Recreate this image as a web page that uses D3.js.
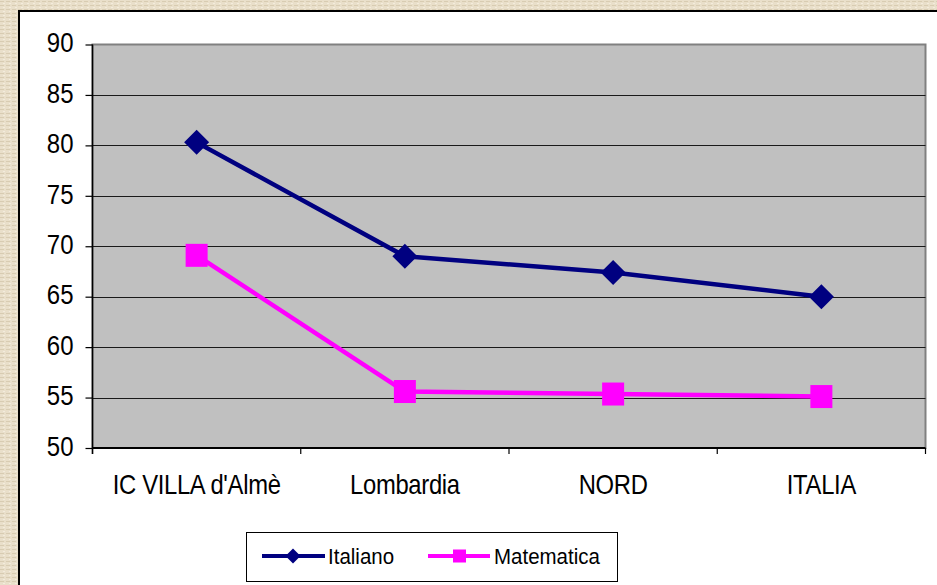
<!DOCTYPE html>
<html><head><meta charset="utf-8">
<script src="https://cdn.jsdelivr.net/npm/d3@7/dist/d3.min.js"></script>
<style>html,body{margin:0;padding:0;background:#e6dcc6;}svg{display:block;}</style>
</head><body>
<svg id="c" width="937" height="585"></svg>
<script>
const categories = ["IC VILLA d'Almè", "Lombardia", "NORD", "ITALIA"];
const italiano = [80.3, 69.0, 67.4, 65.0];
const matematica = [69.1, 55.6, 55.35, 55.1];
const yTicks = [50, 55, 60, 65, 70, 75, 80, 85, 90];
const seriesNames = ["Italiano", "Matematica"];

(function () {
const svg = d3.select("#c");
const W = 937, H = 585;
const font = "'Liberation Sans', Arial, sans-serif";

const defs = svg.append("defs");
const pat = defs.append("pattern").attr("id", "tex").attr("width", 6).attr("height", 4).attr("patternUnits", "userSpaceOnUse");
pat.append("rect").attr("width", 6).attr("height", 4).attr("fill", "#e9dfca");
pat.append("rect").attr("x", 0).attr("y", 1).attr("width", 4).attr("height", 1).attr("fill", "#d8ccb2");
pat.append("rect").attr("x", 3).attr("y", 3).attr("width", 2).attr("height", 1).attr("fill", "#f3ecdc");
svg.append("rect").attr("width", W).attr("height", H).attr("fill", "url(#tex)");

svg.append("rect").attr("x", 19).attr("y", 11).attr("width", W).attr("height", H).attr("fill", "#fff");
svg.append("line").attr("x1", 19).attr("x2", 19).attr("y1", 10).attr("y2", H).attr("stroke", "#000").attr("stroke-width", 2);
svg.append("line").attr("x1", 18).attr("x2", W).attr("y1", 11).attr("y2", 11).attr("stroke", "#000").attr("stroke-width", 2);

const pL = 92.5, pR = 925.5, pT = 44.5, pB = 448;
const x = d3.scaleBand().domain(categories).range([pL, pR]);
const y = d3.scaleLinear().domain([50, 90]).range([pB, pT]);

svg.append("rect").attr("x", pL).attr("y", pT).attr("width", pR - pL).attr("height", pB - pT)
  .attr("fill", "#c0c0c0").attr("stroke", "#808080").attr("stroke-width", 2);

svg.append("g").selectAll("line").data(yTicks.filter(d => d > 50 && d < 90)).join("line")
  .attr("x1", pL).attr("x2", pR).attr("y1", d => Math.round(y(d)) + 0.5).attr("y2", d => Math.round(y(d)) + 0.5)
  .attr("stroke", "#1a1a1a").attr("stroke-width", 1);

const yAxis = svg.append("g").attr("transform", `translate(${pL},0)`)
  .call(d3.axisLeft(y).tickValues(yTicks).tickSize(7).tickPadding(0).tickFormat(d3.format("d")));
yAxis.select(".domain").attr("stroke", "#000").attr("stroke-width", 1.5).attr("d", `M0,${pT}V${pB + 6}`);
yAxis.selectAll(".tick line").attr("stroke", "#000").attr("stroke-width", 1.2);
yAxis.selectAll(".tick text").remove();
yAxis.selectAll(".tick").append("text")
  .attr("transform", "translate(-19,7.3) scale(1,1.12)")
  .attr("text-anchor", "end").attr("fill", "#000")
  .style("font-family", font).style("font-size", "24px").text(d => d);

const xAxis = svg.append("g").attr("transform", `translate(0,${pB})`)
  .call(d3.axisBottom(x).tickSize(0).tickPadding(0));
xAxis.select(".domain").attr("stroke", "#000").attr("stroke-width", 2).attr("d", `M${pL},0H${pR}`);
xAxis.selectAll(".tick text").remove();
xAxis.selectAll(".tick").append("text")
  .attr("transform", "translate(0,45.5) scale(1,1.17)")
  .attr("text-anchor", "middle").attr("fill", "#000").attr("letter-spacing", "-0.3")
  .style("font-family", font).style("font-size", "23.8px").text(d => d);
const bounds = categories.map(c => x(c)).concat([pR]);
svg.append("g").selectAll("line").data(bounds).join("line")
  .attr("x1", d => d).attr("x2", d => d).attr("y1", pB).attr("y2", pB + 6)
  .attr("stroke", "#000").attr("stroke-width", 1.2);

const cx = c => x(c) + x.bandwidth() / 2;
const line = d3.line().x((d, i) => cx(categories[i])).y(d => y(d));

svg.append("path").datum(italiano).attr("d", line).attr("fill", "none")
  .attr("stroke", "#000080").attr("stroke-width", 4.5).attr("stroke-linejoin", "round");
svg.append("g").selectAll("path").data(italiano).join("path")
  .attr("d", "M0,-12.5L12.5,0L0,12.5L-12.5,0Z")
  .attr("transform", (d, i) => `translate(${cx(categories[i])},${y(d)})`)
  .attr("fill", "#000080");

svg.append("path").datum(matematica).attr("d", line).attr("fill", "none")
  .attr("stroke", "#ff00ff").attr("stroke-width", 4.5).attr("stroke-linejoin", "round");
svg.append("g").selectAll("rect").data(matematica).join("rect")
  .attr("x", (d, i) => cx(categories[i]) - 11).attr("y", d => y(d) - 11.5)
  .attr("width", 22).attr("height", 23).attr("fill", "#ff00ff");

const lg = svg.append("g");
lg.append("rect").attr("x", 246.5).attr("y", 532.5).attr("width", 371).attr("height", 49)
  .attr("fill", "#fff").attr("stroke", "#000").attr("stroke-width", 1);
const ly = 556;
lg.append("line").attr("x1", 262).attr("x2", 325).attr("y1", ly).attr("y2", ly).attr("stroke", "#000080").attr("stroke-width", 4);
lg.append("path").attr("d", "M0,-7.5L7.5,0L0,7.5L-7.5,0Z").attr("transform", `translate(293,${ly})`).attr("fill", "#000080");
lg.append("text").attr("transform", `translate(328,${ly + 7.5}) scale(1,1.12)`)
  .style("font-family", font).style("font-size", "20.5px").attr("fill", "#000").text(seriesNames[0]);
lg.append("line").attr("x1", 428).attr("x2", 490).attr("y1", ly).attr("y2", ly).attr("stroke", "#ff00ff").attr("stroke-width", 4);
lg.append("rect").attr("x", 453).attr("y", ly - 6.5).attr("width", 13).attr("height", 13).attr("fill", "#ff00ff");
lg.append("text").attr("transform", `translate(494,${ly + 7.5}) scale(1,1.12)`)
  .style("font-family", font).style("font-size", "20.5px").attr("fill", "#000").text(seriesNames[1]);
})();
</script>
</body></html>
